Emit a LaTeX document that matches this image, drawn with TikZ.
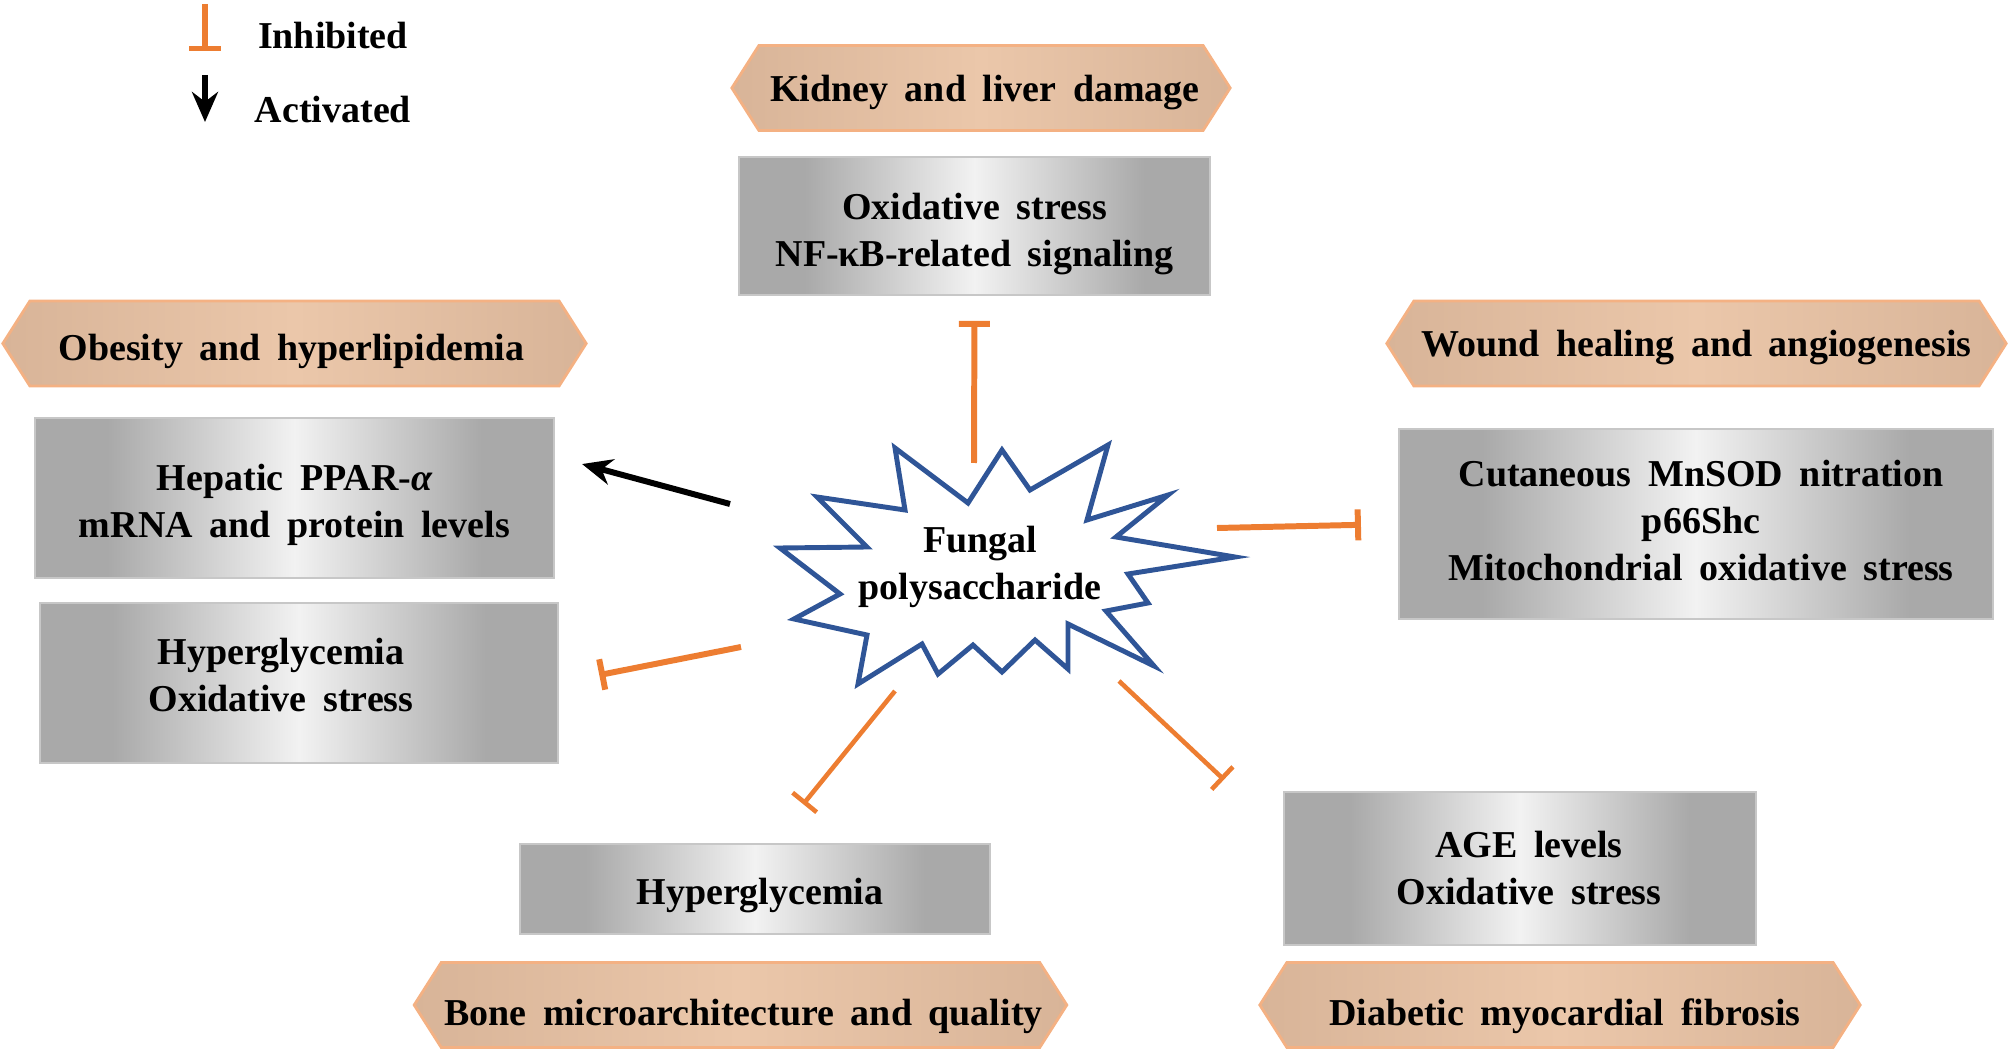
\documentclass[tikz,border=0pt]{standalone}
\usepackage{fontspec}
\setmainfont{Liberation Serif}[WordSpace=1.75]
\usetikzlibrary{shapes.symbols}
\usetikzlibrary{arrows.meta}
\definecolor{inhorange}{HTML}{ED7D31}
\definecolor{starblue}{HTML}{2F5597}
\definecolor{hexline}{HTML}{F4B183}
\definecolor{hexedge}{HTML}{D8B498}
\definecolor{hexmid}{HTML}{EBC7AA}
\definecolor{boxedge}{HTML}{A9A9A9}
\definecolor{boxmid}{HTML}{F2F2F2}
\pgfdeclarehorizontalshading{silver}{100bp}{color(0bp)=(boxedge); color(25bp)=(boxedge); color(32bp)=(boxedge); color(50bp)=(boxmid); color(68bp)=(boxedge); color(75bp)=(boxedge); color(100bp)=(boxedge)}
\pgfdeclarehorizontalshading{tanband}{100bp}{color(0bp)=(hexedge); color(25bp)=(hexedge); color(50bp)=(hexmid); color(75bp)=(hexedge); color(100bp)=(hexedge)}
\tikzstyle{effect}=[signal, signal to=west and east, signal pointer angle=115, shading=tanband, draw=hexline, line width=0.8pt, minimum height=0.85cm, inner xsep=0pt, inner ysep=2pt]
\tikzstyle{mech}=[rectangle, shading=silver, draw=black!22, line width=0.5pt, align=center]
\tikzstyle{inhib}=[draw=inhorange, line width=1.7pt, -{Bar[width=0.31cm]}]
\tikzstyle{activ}=[draw=black, line width=1.7pt, -{Stealth[length=0.3cm,width=0.26cm]}]
% text moved by (#1,#2) inside its box
\newcommand{\boxtext}[3]{\raisebox{#2}[\height][\depth]{\hspace*{#1}\begin{tabular}{@{}c@{}}#3\end{tabular}\hspace*{-#1}}}

\begin{document}
\begin{tikzpicture}[x=0.01cm, y=-0.01cm, every node/.style={font=\bfseries\fontsize{10.8}{13.4}\selectfont}]
	\useasboundingbox (0,0) rectangle (2008,1049);
	% legend
	\coordinate (inhtop) at (205,4);
	\coordinate (inhbot) at (205,51);
	\coordinate (acttop) at (205,75);
	\coordinate (actbot) at (205,122);
	\draw[inhib, line width=1.5pt] (inhtop) -- (inhbot);
	\draw[activ, line width=1.5pt] (acttop) -- (actbot);
	\node (inhtxt) at (333,36) {Inhibited};
	\node (acttxt) at (333,110) {Activated};
	% centre
	\draw[starblue, line width=1.4pt, fill=white] (780,548) -- (867,547) -- (817,497) -- (905,510)
		-- (895,448) -- (968,503) -- (1002,450) -- (1030,490) -- (1108,445) -- (1087,520)
		-- (1168,495) -- (1116,537) -- (1235,557) -- (1128,574) -- (1148,603) -- (1106,611)
		-- (1154,666) -- (1068,624) -- (1068,669) -- (1035,640) -- (1002,672) -- (973,645)
		-- (938,674) -- (922,644) -- (858,684) -- (867,635) -- (794,619) -- (840,594) -- cycle;
	\node[align=center, inner sep=0pt] (fp) at (980,567) {Fungal\\polysaccharide};
	% effects and mechanisms
	\node[effect, minimum width=4.98cm] (kidney) at (981,88) {\boxtext{0.04cm}{-0.04cm}{Kidney and liver damage}};
	\node[mech, minimum width=4.71cm, minimum height=1.38cm] (oxtop) at (974.5,226) {\boxtext{0cm}{-0.077cm}{Oxidative stress\\NF-κB-related signaling}};
	\node[effect, minimum width=5.83cm] (obesity) at (294.5,343.5) {\boxtext{-0.03cm}{-0.077cm}{Obesity and hyperlipidemia}};
	\node[mech, minimum width=5.19cm, minimum height=1.6cm] (hepatic) at (294.5,498) {\boxtext{0cm}{-0.064cm}{Hepatic PPAR-{\itshape α}\\mRNA and protein levels}};
	\node[mech, minimum width=5.18cm, minimum height=1.6cm] (hyperox) at (299,683) {\boxtext{-0.18cm}{0.04cm}{Hyperglycemia\\Oxidative stress}};
	\node[mech, minimum width=4.7cm, minimum height=0.9cm] (hyper) at (755,889) {\boxtext{0.05cm}{-0.064cm}{Hyperglycemia}};
	\node[effect, minimum width=6.51cm] (bone) at (740.5,1005) {\boxtext{0.03cm}{-0.115cm}{Bone microarchitecture and quality}};
	\node[mech, minimum width=4.72cm, minimum height=1.53cm] (age) at (1520,868.5) {\boxtext{0.09cm}{-0.03cm}{AGE levels\\Oxidative stress}};
	\node[effect, minimum width=6cm] (diab) at (1560,1005) {\boxtext{0.05cm}{-0.115cm}{Diabetic myocardial fibrosis}};
	\node[effect, minimum width=6.19cm] (wound) at (1696.5,343.5) {\boxtext{0cm}{-0.04cm}{Wound healing and angiogenesis}};
	\node[mech, minimum width=5.94cm, minimum height=1.9cm] (cutan) at (1696,524) {\boxtext{0.05cm}{0cm}{Cutaneous MnSOD nitration\\p66Shc\\Mitochondrial oxidative stress}};
	% connectors
	\coordinate (fpN) at (974,463);
	\coordinate (fpW) at (730,504);
	\coordinate (fpSW) at (741,647);
	\coordinate (fpS) at (895,691);
	\coordinate (fpSE) at (1119,681);
	\coordinate (fpE) at (1217,528);
	\draw[inhib, shorten >=0.25cm] (fpN) -- (oxtop.south);
	\draw[activ, shorten >=0.28cm] (fpW) -- (hepatic.9);
	\draw[inhib, shorten >=0.41cm] (fpSW) -- (hyperox.east);
	\draw[inhib, line width=1.3pt, shorten >=0.5cm] (fpS) -- (hyper.70);
	\draw[inhib, line width=1.3pt, shorten >=0.81cm] (fpSE) -- (age.172);
	\draw[inhib, shorten >=0.37cm] (fpE) -- (cutan.west);
\end{tikzpicture}
\end{document}
